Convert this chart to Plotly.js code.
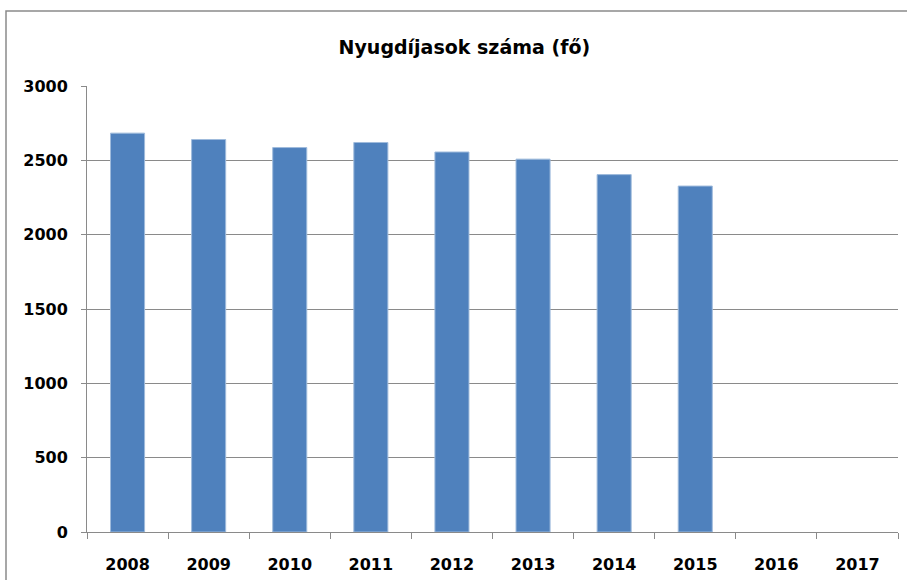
<!DOCTYPE html>
<html>
<head>
<meta charset="utf-8">
<script src="https://cdn.plot.ly/plotly-3.0.1.min.js"></script>
<style>html,body{margin:0;padding:0;background:#fff;}#chart{width:907px;height:580px;}</style>
</head>
<body>
<div id="chart"></div>
<script>
const years = ['2008','2009','2010','2011','2012','2013','2014','2015','2016','2017'];
const pensioners = [2683, 2640, 2586, 2620, 2556, 2508, 2404, 2327, null, null];
const yTicks = [0, 500, 1000, 1500, 2000, 2500, 3000];
const chartTitle = 'Nyugdíjasok száma (fő)';

const font = {family: 'DejaVu Sans, sans-serif', size: 16, color: '#000', weight: 'bold'};

Plotly.newPlot('chart', [{
  type: 'bar',
  x: years,
  y: pensioners,
  marker: {color: '#4f81bd', line: {color: '#9fbbdc', width: 1}},
  hoverinfo: 'x+y'
}], {
  width: 907, height: 580,
  margin: {l: 87, r: 9, t: 86, b: 48},
  paper_bgcolor: '#fff', plot_bgcolor: '#fff',
  bargap: 0.58,
  showlegend: false,
  title: {text: chartTitle, font: {family: 'DejaVu Sans, sans-serif', size: 19, color: '#000', weight: 'bold'},
          x: 0.512, xanchor: 'center', y: 1 - 47/580, yanchor: 'middle', yref: 'container'},
  xaxis: {type: 'category', tickfont: font, ticks: 'outside', ticklen: 6, tickcolor: '#8a8a8a',
          tickson: 'boundaries', showline: true, linecolor: '#8a8a8a', linewidth: 1,
          showgrid: false, ticklabelstandoff: 18, fixedrange: true},
  yaxis: {range: [0, 3000], tickvals: yTicks, ticktext: yTicks.map(String), tickfont: font,
          ticks: 'outside', ticklen: 5, tickcolor: '#8a8a8a', showline: true, linecolor: '#8a8a8a',
          linewidth: 1, showgrid: true, gridcolor: '#8a8a8a', gridwidth: 1, zeroline: false,
          ticklabelstandoff: 10, fixedrange: true},
  shapes: [{type: 'rect', xref: 'paper', yref: 'paper',
            x0: (6 - 87) / 811, x1: (920 - 87) / 811,
            y0: (532 - 600) / 446, y1: (532 - 11) / 446,
            line: {color: '#8a8a8a', width: 1.5}, fillcolor: 'rgba(0,0,0,0)', layer: 'below'}]
}, {displayModeBar: false, staticPlot: true});
</script>
</body>
</html>
